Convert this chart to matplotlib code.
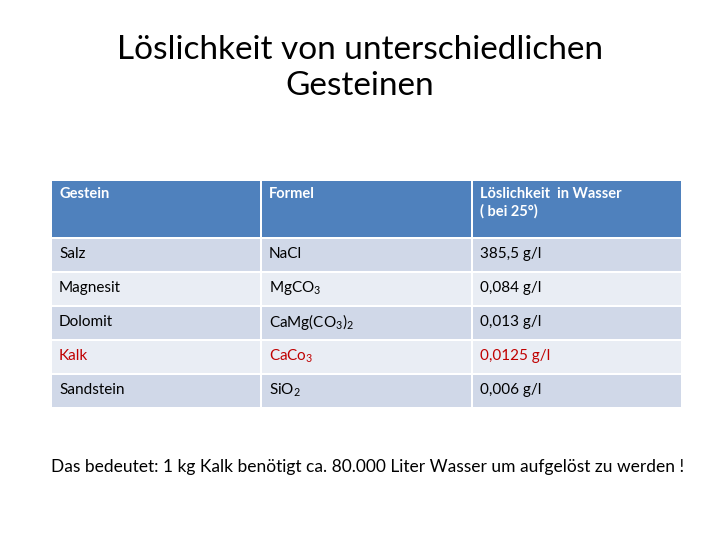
import matplotlib.pyplot as plt
import matplotlib.patches as mpatches

plt.rcParams['font.family'] = ['Lato', 'DejaVu Sans']
plt.rcParams['mathtext.fontset'] = 'custom'
plt.rcParams['mathtext.rm'] = 'Lato'

titel = "Löslichkeit von unterschiedlichen\nGesteinen"
kopf = ["Gestein", "Formel", "Löslichkeit  in Wasser\n( bei 25°)"]
gesteine = ["Salz", "Magnesit", "Dolomit", "Kalk", "Sandstein"]
formeln = ["NaCl", r"MgCO$\mathregular{_3}$", r"CaMg(CO$\mathregular{_3}$)$\mathregular{_2}$",
           r"CaCo$\mathregular{_3}$", r"SiO$\mathregular{_2}$"]
loeslichkeit = ["385,5 g/l", "0,084 g/l", "0,013 g/l", "0,0125 g/l", "0,006 g/l"]
hervorheben = [False, False, False, True, False]
fazit = "Das bedeutet: 1 kg Kalk benötigt ca. 80.000 Liter Wasser um aufgelöst zu werden !"

fig = plt.figure(figsize=(7.2, 5.4), dpi=100)
ax = fig.add_axes([0, 0, 1, 1])
ax.set_xlim(0, 720)
ax.set_ylim(540, 0)
ax.axis('off')

ax.text(360, 68, titel, ha='center', va='center', fontsize=24, linespacing=1.25)

spalten = [52, 262, 473, 683]
zeilen = [181, 239, 273, 307, 341, 375, 409]
lueke = 2

# Kopfzeile
for c in range(3):
    ax.add_patch(mpatches.Rectangle((spalten[c], zeilen[0]), spalten[c + 1] - spalten[c] - lueke,
                                    zeilen[1] - zeilen[0] - lueke, color="#4F81BD", lw=0))
    ax.text(spalten[c] + 7, zeilen[0] + 6, kopf[c], ha='left', va='top', fontsize=10.5,
            color='white', fontweight='bold', linespacing=1.3)

for i in range(len(gesteine)):
    farbe = "#D0D8E8" if i % 2 == 0 else "#E9EDF4"
    y0 = zeilen[i + 1]
    werte = [gesteine[i], formeln[i], loeslichkeit[i]]
    tfarbe = "#C00000" if hervorheben[i] else "black"
    for c in range(3):
        ax.add_patch(mpatches.Rectangle((spalten[c], y0), spalten[c + 1] - spalten[c] - lueke,
                                        zeilen[i + 2] - y0 - lueke, color=farbe, lw=0))
        ax.text(spalten[c] + 7, y0 + 15, werte[c], ha='left', va='center', fontsize=11, color=tfarbe)

ax.text(368, 467, fazit, ha='center', va='center', fontsize=12.5)

plt.savefig("out.png", dpi=100)
plt.close()
